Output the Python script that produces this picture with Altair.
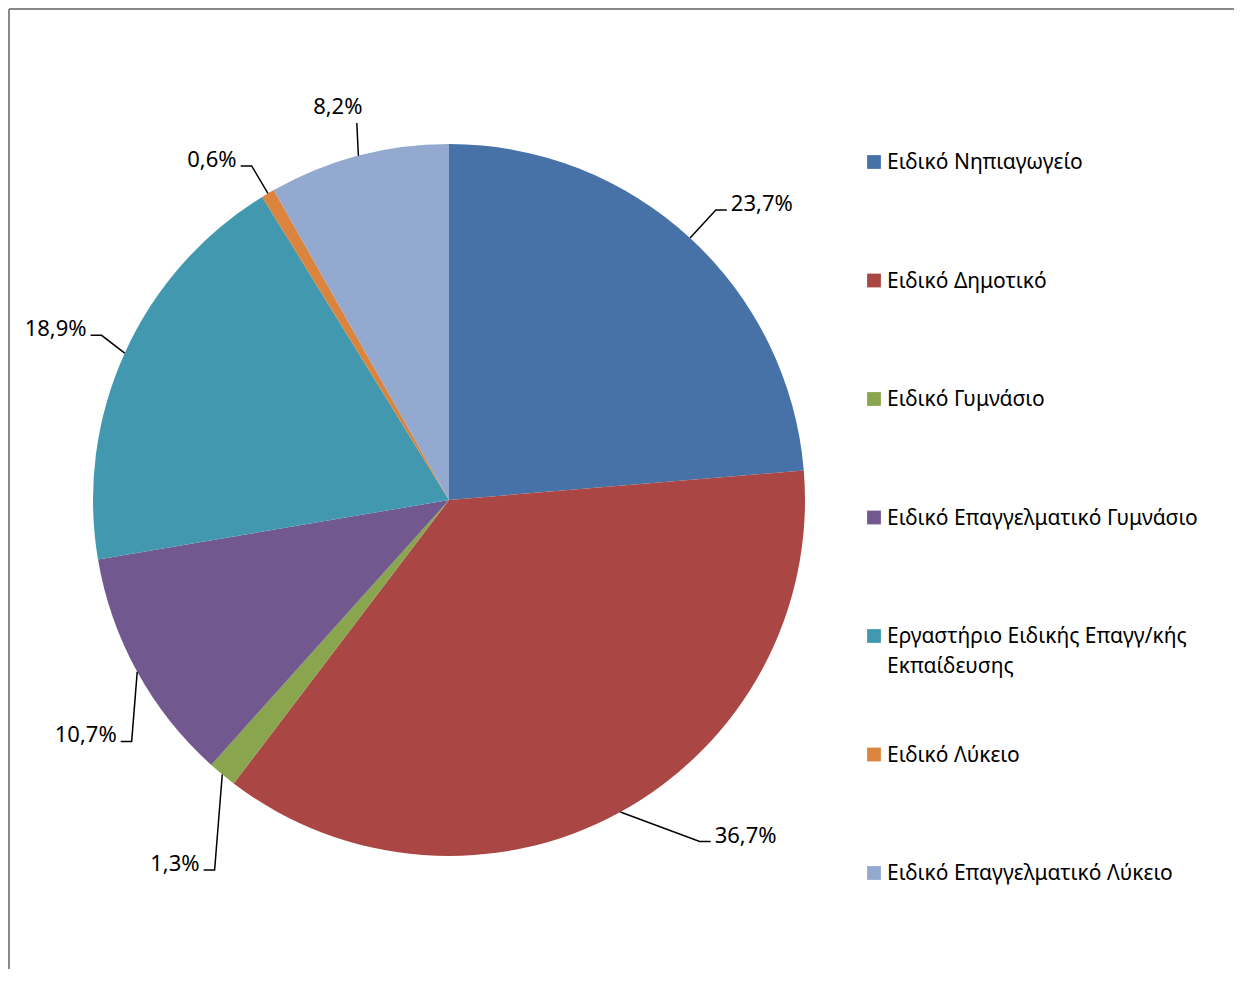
import math
import altair as alt
import pandas as pd

# ---- data ----
categories = [
    "Ειδικό Νηπιαγωγείο",
    "Ειδικό Δημοτικό",
    "Ειδικό Γυμνάσιο",
    "Ειδικό Επαγγελματικό Γυμνάσιο",
    "Εργαστήριο Ειδικής Επαγγ/κής Εκπαίδευσης",
    "Ειδικό Λύκειο",
    "Ειδικό Επαγγελματικό Λύκειο",
]
legend_text = [
    "Ειδικό Νηπιαγωγείο",
    "Ειδικό Δημοτικό",
    "Ειδικό Γυμνάσιο",
    "Ειδικό Επαγγελματικό Γυμνάσιο",
    "Εργαστήριο Ειδικής Επαγγ/κής\nΕκπαίδευσης",
    "Ειδικό Λύκειο",
    "Ειδικό Επαγγελματικό Λύκειο",
]
values = [23.7, 36.7, 1.3, 10.7, 18.9, 0.6, 8.2]

# ---- style / layout ----
colors = ["#4672A8", "#AA4643", "#89A54E", "#71588F", "#4198AF", "#DB843D", "#93A9CF"]
lead_radius = [1.107, 1.19, 1.23, 1.12, 1.08, 1.09, 1.09]   # elbow distance (in pie radii)
lead_shift = [0, -7.5, -7.2, -8.4, 1, 0, 1]                   # elbow angle shift (deg)
lead_side = [1, 1, -1, -1, -1, -1, 0]                          # horizontal tail direction

W, H = 1225, 960
CX, CY, R = 440, 491, 356
TAIL = 11
FONT = "Noto Sans"
FS_LAB = 22
FS_LEG = 21

total = sum(values)
pie_df = pd.DataFrame({"cat": categories, "value": values, "idx": list(range(len(values)))})

# leader lines and label anchors, derived from the values
rows, lab = [], []
cum = 0.0
for i, (c, v) in enumerate(zip(categories, values)):
    mid = (cum + v / 2) / total * 2 * math.pi
    cum += v
    a2 = mid + math.radians(lead_shift[i])
    ex, ey = math.sin(mid), math.cos(mid)
    bx, by = lead_radius[i] * math.sin(a2), lead_radius[i] * math.cos(a2)
    tx = bx + lead_side[i] * TAIL / R
    rows.append({"cat": c, "pt": 0, "x": ex, "y": ey})
    rows.append({"cat": c, "pt": 1, "x": bx, "y": by})
    if lead_side[i] != 0:
        rows.append({"cat": c, "pt": 2, "x": tx, "y": by})
    lab.append({"cat": c, "x": tx, "y": by, "side": lead_side[i],
                "label": f"{v:.1f}".replace(".", ",") + "%"})
line_df = pd.DataFrame(rows)
lab_df = pd.DataFrame(lab)
leg_df = pd.DataFrame({"cat": categories, "text": legend_text})

xs = alt.Scale(domain=[-CX / R, (W - CX) / R], nice=False, zero=False)
ys = alt.Scale(domain=[(CY - H) / R, CY / R], nice=False, zero=False)
col = alt.Scale(domain=categories, range=colors)

pie = alt.Chart(pie_df).mark_arc(radius=R, stroke=None).encode(
    theta=alt.Theta("value:Q", stack=True),
    order=alt.Order("idx:Q"),
    color=alt.Color("cat:N", scale=col, legend=None),
    x=alt.value(CX),
    y=alt.value(CY),
)

leaders = alt.Chart(line_df).mark_line(color="black", strokeWidth=1.5).encode(
    x=alt.X("x:Q", scale=xs, axis=None),
    y=alt.Y("y:Q", scale=ys, axis=None),
    detail="cat:N",
    order="pt:Q",
)

def label_layer(side, align, baseline, dx, dy):
    return alt.Chart(lab_df).transform_filter(alt.datum.side == side).mark_text(
        align=align, baseline=baseline, dx=dx, dy=dy, font=FONT, fontSize=FS_LAB, color="black"
    ).encode(
        x=alt.X("x:Q", scale=xs, axis=None),
        y=alt.Y("y:Q", scale=ys, axis=None),
        text="label:N",
    )

lab_r = label_layer(1, "left", "middle", 4, -6)
lab_l = label_layer(-1, "right", "middle", -4, -6)
lab_t = label_layer(0, "center", "bottom", -19, -4)

legy = alt.Scale(domain=categories, range=[153, 864], padding=0)
leg_sq = alt.Chart(leg_df).mark_square(size=190, opacity=1).encode(
    x=alt.value(865),
    y=alt.Y("cat:N", scale=legy, axis=None, sort=categories),
    color=alt.Color("cat:N", scale=col, legend=None),
)
leg_tx = alt.Chart(leg_df).mark_text(
    align="left", baseline="alphabetic", dy=7, font=FONT, fontSize=FS_LEG, color="black",
    lineBreak="\n", lineHeight=30,
).encode(
    x=alt.value(878),
    y=alt.Y("cat:N", scale=legy, axis=None, sort=categories),
    text="text:N",
)

border_top = alt.Chart(pie_df).mark_rule(color="#898989", strokeWidth=2).encode(
    x=alt.value(0), x2=alt.value(W), y=alt.value(0)
)
border_left = alt.Chart(pie_df).mark_rule(color="#898989", strokeWidth=2).encode(
    x=alt.value(0), y=alt.value(0), y2=alt.value(H)
)

chart = alt.layer(
    border_top, border_left, pie, leaders, lab_r, lab_l, lab_t, leg_sq, leg_tx
).resolve_scale(
    x="independent", y="independent"
).properties(
    width=W, height=H,
    padding={"left": 1, "top": 1, "right": 0, "bottom": 0},
    autosize=alt.AutoSizeParams(type="none"),
).configure_view(stroke=None)

chart.save("out.html", embed_options={"renderer": "svg", "actions": False})
